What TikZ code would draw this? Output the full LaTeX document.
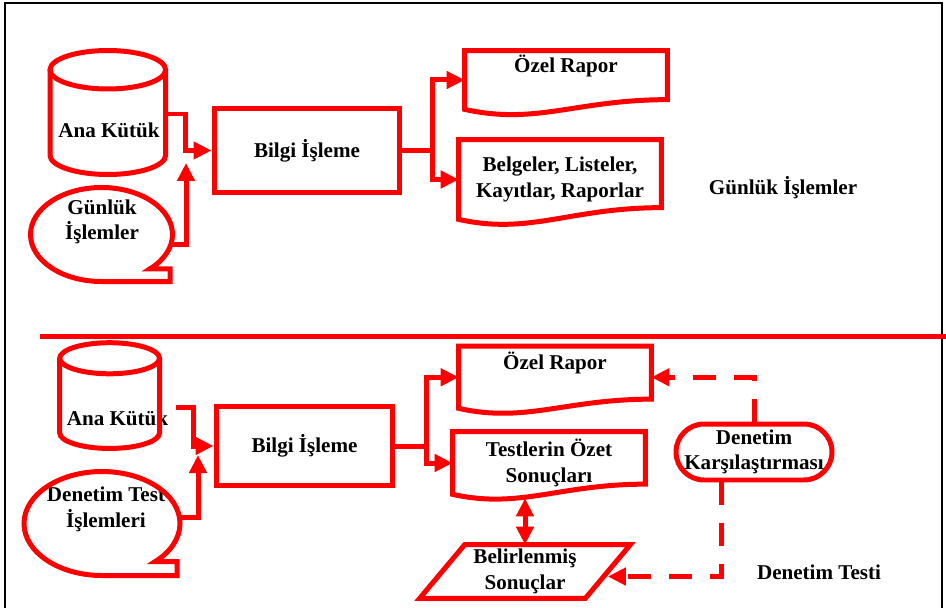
\documentclass[tikz,border=0pt]{standalone}
\usepackage{fontspec}
\setmainfont{Liberation Serif}
\usepackage{xcolor}
\usepackage{tikz}
\usetikzlibrary{arrows.meta,calc}
\definecolor{kirmizi}{HTML}{FF0000}
\definecolor{murekkep}{HTML}{000000}

\begin{document}
\begin{tikzpicture}[x=0.02cm,y=-0.02cm,
    kenar/.style={draw=kirmizi,line width=0.1cm},
    yazi/.style={align=center,inner sep=0pt,text=murekkep,
                 font=\fontsize{12}{14.5}\selectfont\bfseries},
    kutu/.style={kenar,yazi},
    ok/.style={kenar,->},
    kesik/.style={ok,dash pattern=on 0.46cm off 0.36cm},
    >={Triangle[length=0.36cm,width=0.34cm]}]
  \useasboundingbox (0,0) rectangle (946,608);
  \draw[line width=0.045cm] (5,608) -- (5,3) -- (942,3) -- (942,608);
  \draw[kenar] (40,336) -- (946,336);

  % gunluk islemler
  \node[yazi] (ana1) at (109,130) {Ana Kütük};
  \draw[kenar] (50,69.75) -- (50,155.25)
    arc[start angle=180,end angle=0,x radius=57.8,y radius=19.25] -- (165.6,69.75);
  \draw[kenar] (107.8,69.75) ellipse[x radius=57.8,y radius=19.25];
  \node[yazi] (gunluk) at (102,222) {Günlük\\İşlemler};
  \draw[kenar] (101.5,281.5)
    arc[start angle=90,end angle=407,x radius=71,y radius=47] -| (170,281.5) -- cycle;
  \node[kutu,minimum width=3.72cm,minimum height=1.7cm] (bilgi1) at (307,150.5) {Bilgi İşleme};
  \node[yazi,minimum width=4.04cm,minimum height=1.16cm] (ozel1) at (566,80) {Özel Rapor\\\strut};
  \draw[kenar] (ozel1.south west) |- (ozel1.north east) -- ++(0,49)
    .. controls +(-91,0) and +(72,16) .. (ozel1.south west) -- cycle;
  \node[yazi,minimum width=4.04cm,minimum height=1.58cm] (belge1) at (560,179.5)
    {Belgeler, Listeler,\\Kayıtlar, Raporlar};
  \draw[kenar] (belge1.south west) |- (belge1.north east) -- ++(0,68)
    .. controls +(-91,0) and +(71,16) .. (belge1.south west) -- cycle;
  \node[yazi] (etiket1) at (783,188) {Günlük İşlemler};
  \coordinate (c1) at (165.6,114);
  \coordinate (c2) at (171,244);
  \coordinate (c3) at (186,163);
  \draw[ok] (c1) -- ++(20,0) |- (bilgi1.west);
  \draw[ok] (c2) -| (c3);
  \draw[ok] (bilgi1.east) -- ++(30,0) |- (ozel1.west);
  \draw[ok] (bilgi1.east) -- ++(30,0) |- (belge1.west);

  % denetim testi
  \node[yazi] (ana2) at (117.5,418) {Ana Kütük};
  \draw[kenar] (59.7,358.25) -- (59.7,432.9)
    arc[start angle=180,end angle=0,x radius=49.9,y radius=15.55] -- (159.5,358.25);
  \draw[kenar] (109.6,358.25) ellipse[x radius=49.9,y radius=15.55];
  \node[yazi] (denetimTest) at (106,509.5) {Denetim Test\\İşlemleri};
  \draw[kenar] (102,575.5)
    arc[start angle=90,end angle=407,x radius=78,y radius=52] -| (177,575.5) -- cycle;
  \node[kutu,minimum width=3.54cm,minimum height=1.6cm] (bilgi2) at (304.5,446) {Bilgi İşleme};
  \node[yazi,minimum width=3.84cm,minimum height=1.23cm] (ozel2) at (555,377.25) {Özel Rapor\\\strut};
  \draw[kenar] (ozel2.south west) |- (ozel2.north east) -- ++(0,53)
    .. controls +(-86,0) and +(67,15) .. (ozel2.south west) -- cycle;
  \node[yazi,minimum width=3.84cm,minimum height=1.24cm] (testler) at (549,463)
    {Testlerin Özet\\Sonuçları};
  \draw[kenar] (testler.south west) |- (testler.north east) -- ++(0,52.5)
    .. controls +(-86,0) and +(67,15) .. (testler.south west) -- cycle;
  \node[yazi,minimum width=3.3cm,minimum height=1.06cm] (belirli) at (525,571.5)
    {Belirlenmiş\\Sonuçlar};
  \draw[kenar] ([xshift=0.45cm]belirli.north west) -- ([xshift=0.45cm]belirli.north east)
    -- ([xshift=-0.45cm]belirli.south east) -- ([xshift=-0.45cm]belirli.south west) -- cycle;
  \node[kutu,rounded corners=0.56cm,minimum width=3.12cm,minimum height=1.12cm] (karsi)
    at (754,452) {Denetim\\Karşılaştırması};
  \node[yazi] (etiket2) at (819,572) {Denetim Testi};
  \coordinate (c4) at (176,407);
  \coordinate (c5) at (180,517);
  \coordinate (c6) at (198,455);
  \draw[ok] (c4) -- ++(17,0) |- (bilgi2.west);
  \draw[ok] (c5) -| (c6);
  \draw[ok] (bilgi2.east) -- ++(31,0) |- (ozel2.west);
  \draw[ok] (bilgi2.east) -- ++(31,0) |- (testler.west);
  \draw[kenar,<->,shorten <=0.08cm] (testler.south -| belirli.north) -- (belirli.north);
  \draw[kesik] (karsi.north) |- (ozel2.east);
  \draw[kesik] ([xshift=-0.66cm]karsi.south) |- ([yshift=-0.1cm]belirli.east);
\end{tikzpicture}
\end{document}
